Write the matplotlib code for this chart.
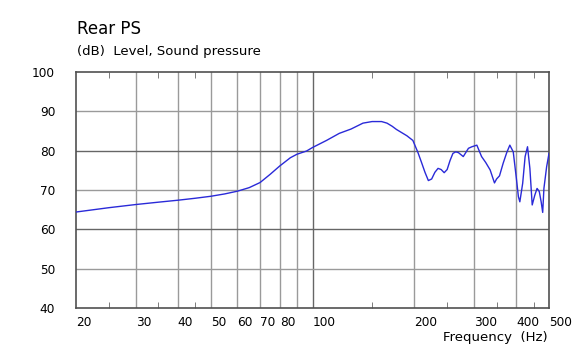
import matplotlib.pyplot as plt
from matplotlib.ticker import FixedLocator, NullFormatter

# Data
freq = [20, 25, 30, 35, 40, 45, 50, 55, 60, 65, 70, 75, 80, 86, 90, 96, 100,
        110, 120, 130, 141, 150, 160, 166, 172, 177, 185, 190, 198, 205, 210,
        215, 220, 225, 230, 235, 240, 245, 250, 255, 260, 265, 270, 279, 289,
        296, 306, 316, 325, 335, 345, 350, 357, 366, 375, 383, 392, 401, 406,
        410, 418, 425, 432, 439, 446, 454, 461, 468, 474, 479, 483, 492, 500]
spl = [64.4, 65.5, 66.3, 66.9, 67.4, 67.9, 68.4, 69.0, 69.7, 70.6, 71.9, 74.0,
       76.1, 78.2, 79.1, 79.9, 80.8, 82.6, 84.4, 85.5, 87.0, 87.4, 87.4, 87.0,
       86.2, 85.4, 84.4, 83.8, 82.6, 79.5, 77.0, 74.5, 72.4, 72.8, 74.5, 75.5,
       75.2, 74.4, 75.2, 77.5, 79.3, 79.7, 79.5, 78.5, 80.6, 81.0, 81.4, 78.5,
       77.0, 75.1, 71.8, 72.8, 73.6, 76.8, 79.5, 81.4, 79.7, 72.5, 68.3, 67.0,
       71.7, 78.5, 81.0, 75.5, 66.2, 68.7, 70.4, 69.6, 67.0, 64.3, 70.4, 75.9,
       79.3]

x_ticks = [20, 30, 40, 50, 60, 70, 80, 100, 200, 300, 400, 500]
x_grid = [30, 40, 50, 60, 70, 80, 90, 200, 300, 400]
x_minor = [25, 35, 45, 150, 250, 350, 450]
y_ticks = [40, 50, 60, 70, 80, 90, 100]

plt.rcParams['font.family'] = 'DejaVu Sans'

fig = plt.figure(figsize=(5.78, 3.51), dpi=100)
ax = fig.add_axes([76 / 578, 43 / 351, 473 / 578, 236 / 351])

light = '#9a9a9a'
dark = '#666666'
for f in x_grid:
    ax.axvline(f, color=light, lw=1, zorder=1)
ax.axvline(100, color=dark, lw=1, zorder=1)
for v in [50, 70, 90]:
    ax.axhline(v, color=light, lw=1, zorder=1)
for v in [60, 80]:
    ax.axhline(v, color=dark, lw=1, zorder=1)

ax.plot(freq, spl, color='#2a2ad8', lw=1, zorder=3)

ax.set_xscale('log')
ax.set_xlim(20, 500)
ax.set_ylim(40, 100)

ax.xaxis.set_major_locator(FixedLocator(x_ticks))
ax.set_xticklabels([str(t) for t in x_ticks])
ax.xaxis.set_minor_locator(FixedLocator(x_minor))
ax.xaxis.set_minor_formatter(NullFormatter())
ax.set_yticks(y_ticks)
ax.set_yticklabels([str(t) for t in y_ticks])

ax.tick_params(axis='x', which='major', length=0, pad=6, labelsize=8.7,
               colors='#000000')
for lbl in ax.get_xticklabels():
    lbl.set_horizontalalignment('left')
ax.tick_params(axis='x', which='minor', direction='in', length=4,
               top=True, bottom=True, color=dark)
ax.tick_params(axis='y', which='major', length=0, pad=15, labelsize=8.7)

for s in ax.spines.values():
    s.set_color('#505050')
    s.set_linewidth(1.2)

fig.text(77 / 578, 1 - 29 / 351, 'Rear PS', fontsize=12, va='center', ha='left')
fig.text(77 / 578, 1 - 51 / 351, '(dB)  Level, Sound pressure', fontsize=9.5,
         va='center', ha='left')
fig.text(548 / 578, 1 - 338 / 351, 'Frequency  (Hz)', fontsize=9.5,
         va='center', ha='right')

fig.savefig('out.png', dpi=100)
